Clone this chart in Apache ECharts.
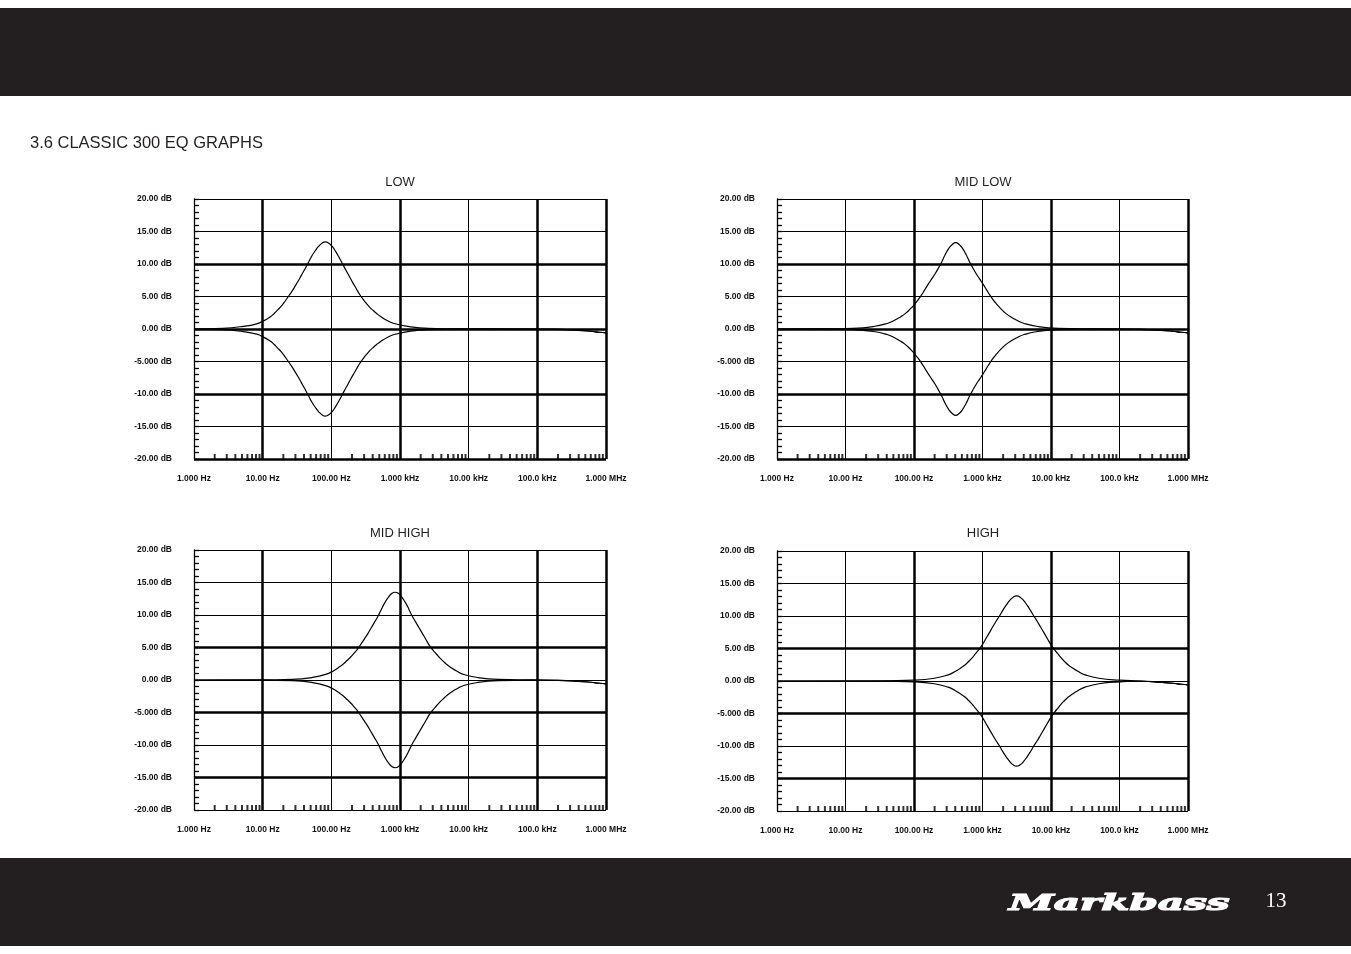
<!DOCTYPE html>
<html><head><meta charset="utf-8">
<script src="https://cdn.jsdelivr.net/npm/echarts@6/dist/echarts.min.js"></script>
<style>html,body{margin:0;padding:0;background:#fff}#c{width:1351px;height:954px}</style>
</head><body><div id="c"></div>
<script>
// ---------- text ----------
const PAGE_TITLE = '3.6 CLASSIC 300 EQ GRAPHS';
const CHART_TITLES = ['LOW', 'MID LOW', 'MID HIGH', 'HIGH'];
const X_TICK_LABELS = ['1.000 Hz', '10.00 Hz', '100.00 Hz', '1.000 kHz', '10.00 kHz', '100.0 kHz', '1.000 MHz'];
const Y_TICK_VALUES = [-20, -15, -10, -5, 0, 5, 10, 15, 20];
const Y_TICK_LABELS = ['-20.00 dB', '-15.00 dB', '-10.00 dB', '-5.000 dB', '0.00 dB', '5.00 dB', '10.00 dB', '15.00 dB', '20.00 dB'];
const MINOR_MULTIPLIERS = [2, 3, 4, 5, 6, 7, 8, 9];
const DECADES = [1, 10, 100, 1000, 10000, 100000];
const PAGE_NUMBER = '13';
const BRAND = 'Markbass';

// ---------- data (Hz, dB) ----------
const lowFreq  = [1, 2.6, 5.2, 8.2, 10.3, 13, 14.6, 16.4, 18.4, 20.6, 23.1, 25.9, 29.1, 32.6, 36.6, 41.1, 46.1, 51.7, 58, 65.1, 73.1, 82, 92, 103, 116, 130, 146, 164, 184, 206, 231, 259, 291, 326, 366, 411, 461, 518, 651, 820, 1300, 2590, 8200, 50000, 200000, 400000, 600000, 800000, 1000000];
const lowBoost = [0.02, 0.11, 0.4, 0.8, 1.25, 1.9, 2.35, 2.9, 3.45, 4.1, 4.85, 5.6, 6.45, 7.3, 8.25, 9.2, 10.2, 11.2, 12.0, 12.7, 13.2, 13.4, 13.2, 12.7, 11.9, 11.0, 10.0, 9.0, 8.05, 7.1, 6.2, 5.3, 4.55, 3.9, 3.3, 2.8, 2.35, 1.95, 1.3, 0.85, 0.4, 0.1, 0.01, 0, -0.05, -0.2, -0.35, -0.5, -0.6];
const lowCut   = [-0.02, -0.11, -0.4, -0.8, -1.25, -1.9, -2.35, -2.9, -3.45, -4.1, -4.85, -5.6, -6.45, -7.3, -8.25, -9.2, -10.2, -11.2, -12.0, -12.7, -13.2, -13.4, -13.2, -12.7, -11.9, -11.0, -10.0, -9.0, -8.05, -7.1, -6.2, -5.3, -4.55, -3.9, -3.3, -2.8, -2.35, -1.95, -1.3, -0.85, -0.4, -0.1, -0.01, 0, -0.05, -0.2, -0.35, -0.5, -0.6];

const midLowFreq  = [1, 4.06, 12.8, 25.6, 40.6, 51.1, 64.1, 72, 80.8, 90.6, 101.7, 114, 128, 144, 161.6, 181.3, 203.5, 228, 256, 287, 322, 362, 406, 456, 511, 573, 643, 722, 810, 908, 1020, 1143, 1284, 1441, 1617, 1814, 2035, 2283, 2562, 3225, 4060, 6435, 12840, 40600, 200000, 400000, 600000, 800000, 1000000];
const midLowBoost = [0, 0.01, 0.1, 0.38, 0.85, 1.3, 1.9, 2.25, 2.7, 3.2, 3.8, 4.45, 5.2, 6.05, 6.9, 7.7, 8.5, 9.4, 10.4, 11.5, 12.4, 13.0, 13.3, 13.0, 12.4, 11.5, 10.4, 9.4, 8.5, 7.7, 6.9, 6.05, 5.2, 4.45, 3.8, 3.2, 2.7, 2.25, 1.9, 1.3, 0.85, 0.38, 0.1, 0.01, -0.05, -0.2, -0.35, -0.5, -0.6];
const midLowCut   = [0, -0.01, -0.1, -0.38, -0.85, -1.3, -1.9, -2.25, -2.7, -3.2, -3.8, -4.45, -5.2, -6.05, -6.9, -7.7, -8.5, -9.4, -10.4, -11.5, -12.4, -13.0, -13.3, -13.0, -12.4, -11.5, -10.4, -9.4, -8.5, -7.7, -6.9, -6.05, -5.2, -4.45, -3.8, -3.2, -2.7, -2.25, -1.9, -1.3, -0.85, -0.38, -0.1, -0.01, -0.05, -0.2, -0.35, -0.5, -0.6];

const midHighFreq  = [1, 8.5, 26.9, 53.6, 85, 107, 134.7, 151, 169.6, 190, 213.5, 240.6, 268.8, 302, 338.4, 380, 426, 478, 536, 602, 675, 758, 850, 954, 1070, 1201, 1347, 1512, 1696, 1903, 2135, 2396, 2688, 3016, 3384, 3797, 4260, 4780, 5363, 6750, 8500, 13470, 26880, 85000, 200000, 400000, 600000, 800000, 1000000];
const midHighBoost = [0, 0.01, 0.1, 0.4, 0.9, 1.4, 2.1, 2.5, 3.0, 3.5, 4.1, 4.75, 5.5, 6.3, 7.1, 8.0, 8.9, 9.8, 10.9, 11.9, 12.7, 13.3, 13.5, 13.3, 12.7, 11.9, 10.9, 9.8, 8.9, 8.0, 7.1, 6.2, 5.3, 4.6, 4.0, 3.4, 2.9, 2.4, 2.0, 1.35, 0.85, 0.38, 0.1, 0.01, -0.05, -0.2, -0.35, -0.5, -0.6];
const midHighCut   = [0, -0.01, -0.1, -0.4, -0.9, -1.4, -2.1, -2.5, -3.0, -3.5, -4.1, -4.75, -5.5, -6.3, -7.1, -8.0, -8.9, -9.8, -10.9, -11.9, -12.7, -13.3, -13.5, -13.3, -12.7, -11.9, -10.9, -9.8, -8.9, -8.0, -7.1, -6.2, -5.3, -4.6, -4.0, -3.4, -2.9, -2.4, -2.0, -1.35, -0.85, -0.38, -0.1, -0.01, -0.05, -0.2, -0.35, -0.5, -0.6];

const highFreq  = [1, 31.5, 99.6, 198.7, 315, 397, 497, 560, 627, 705, 791, 889, 996, 1117, 1254, 1405, 1579, 1771, 1988, 2230, 2502, 2807, 3150, 3534, 3966, 4450, 4993, 5602, 6285, 7050, 7913, 8875, 9962, 11180, 12540, 14070, 15790, 17720, 19880, 25020, 31500, 49930, 99610, 200000, 400000, 600000, 800000, 1000000];
const highBoost = [0, 0.01, 0.12, 0.42, 0.95, 1.45, 2.1, 2.5, 3.0, 3.55, 4.2, 4.85, 5.6, 6.5, 7.4, 8.3, 9.2, 10.0, 10.9, 11.7, 12.4, 12.9, 13.1, 12.9, 12.4, 11.7, 10.9, 10.0, 9.2, 8.3, 7.4, 6.5, 5.6, 4.85, 4.2, 3.55, 3.0, 2.5, 2.1, 1.45, 0.95, 0.42, 0.12, 0, -0.2, -0.35, -0.5, -0.6];
const highCut   = [0, -0.01, -0.12, -0.42, -0.95, -1.45, -2.1, -2.5, -3.0, -3.55, -4.2, -4.85, -5.6, -6.5, -7.4, -8.3, -9.2, -10.0, -10.9, -11.7, -12.4, -12.9, -13.1, -12.9, -12.4, -11.7, -10.9, -10.0, -9.2, -8.3, -7.4, -6.5, -5.6, -4.85, -4.2, -3.55, -3.0, -2.5, -2.1, -1.45, -0.95, -0.42, -0.12, 0, -0.2, -0.35, -0.5, -0.6];

const CHART_DATA = [
  [lowFreq, lowBoost, lowCut],
  [midLowFreq, midLowBoost, midLowCut],
  [midHighFreq, midHighBoost, midHighCut],
  [highFreq, highBoost, highCut]
];

// ---------- layout / style ----------
const GRIDS = [
  {left: 194, top: 199, width: 412, height: 260},
  {left: 777, top: 199, width: 411, height: 260},
  {left: 194, top: 550, width: 412, height: 260},
  {left: 777, top: 551, width: 411, height: 260}
];
const TITLE_POS = [[400, 182], [983, 182], [400, 533], [983, 533]];
const THICK = [
  {x: [10, 1000, 100000, 1000000], y: [10, 0, -10, -20]},
  {x: [100, 10000, 1000000], y: [10, 0, -10, -20]},
  {x: [10, 1000, 100000, 1000000], y: [5, -5, -15]},
  {x: [100, 10000, 1000000], y: [5, -5, -15]}
];
const INK = '#000';
const LABEL_FONT = {fontSize: 8.5, fontWeight: 'bold', fontFamily: 'Liberation Sans, Arial, sans-serif', color: '#111'};

const minorTickPoints = [];
DECADES.forEach(d => MINOR_MULTIPLIERS.forEach(m => minorTickPoints.push([d * m, -20])));

const xAxes = [], yAxes = [], series = [], graphics = [];

GRIDS.forEach((g, i) => {
  xAxes.push({
    type: 'log', logBase: 10, gridIndex: i, min: 1, max: 1000000, interval: 1, splitNumber: 6,
    axisLine: {show: false},
    axisTick: {show: false},
    minorTick: {show: false},
    splitLine: {show: true, lineStyle: {color: INK, width: 1}},
    axisLabel: Object.assign({
      margin: 15, showMinLabel: true, showMaxLabel: true, hideOverlap: false,
      formatter: v => X_TICK_LABELS[Math.round(Math.log10(v))]
    }, LABEL_FONT)
  });
  yAxes.push({
    type: 'value', gridIndex: i, min: -20, max: 20, interval: 5,
    axisLine: {show: true, lineStyle: {color: INK, width: 1.3}},
    axisTick: {show: true, inside: true, length: 5, lineStyle: {color: INK, width: 1.3}},
    minorTick: {show: true, splitNumber: 5, length: 5, lineStyle: {color: INK, width: 1.3}},
    splitLine: {show: true, lineStyle: {color: INK, width: 1}},
    axisLabel: Object.assign({
      margin: 22,
      formatter: v => Y_TICK_LABELS[Y_TICK_VALUES.indexOf(v)]
    }, LABEL_FONT)
  });
  const [fr, boost, cut] = CHART_DATA[i];
  const thickLines = THICK[i].x.map(v => ({xAxis: v})).concat(THICK[i].y.map(v => ({yAxis: v})));
  series.push({
    type: 'line', xAxisIndex: i, yAxisIndex: i, name: CHART_TITLES[i] + ' boost',
    data: fr.map((f, k) => [f, boost[k]]), smooth: 0.5, showSymbol: false, clip: false,
    lineStyle: {color: INK, width: 1.2}, silent: true, z: 3,
    markLine: {
      silent: true, symbol: 'none', label: {show: false},
      lineStyle: {color: INK, width: 2.5, type: 'solid'},
      emphasis: {disabled: true},
      data: thickLines
    }
  });
  series.push({
    type: 'line', xAxisIndex: i, yAxisIndex: i, name: CHART_TITLES[i] + ' cut',
    data: fr.map((f, k) => [f, cut[k]]), smooth: 0.5, showSymbol: false, clip: false,
    lineStyle: {color: INK, width: 1.2}, silent: true, z: 3
  });
  series.push({
    type: 'scatter', xAxisIndex: i, yAxisIndex: i, silent: true, clip: false,
    data: minorTickPoints, symbol: 'rect', symbolSize: [2, 5], symbolOffset: [0, -2.5],
    itemStyle: {color: INK}, z: 4
  });
  graphics.push({
    type: 'text', x: TITLE_POS[i][0], y: TITLE_POS[i][1], silent: true,
    style: {text: CHART_TITLES[i], fill: '#231f20', font: '13px "Liberation Sans", Arial, sans-serif', align: 'center', verticalAlign: 'middle'}
  });
});

graphics.unshift(
  {type: 'rect', shape: {x: 0, y: 8, width: 1351, height: 88}, style: {fill: '#231f20'}, silent: true},
  {type: 'rect', shape: {x: 0, y: 858, width: 1351, height: 88}, style: {fill: '#231f20'}, silent: true},
  {type: 'text', x: 30, y: 143, silent: true,
   style: {text: PAGE_TITLE, fill: '#231f20', font: '16.5px "Liberation Sans", Arial, sans-serif', align: 'left', verticalAlign: 'middle'}},
  {type: 'text', x: 1009, y: 904, scaleX: 1.76, silent: true,
   style: {text: BRAND, fill: '#fff', stroke: '#fff', lineWidth: 1.2, font: 'italic bold 23px "DejaVu Serif", serif', align: 'left', verticalAlign: 'middle'}},
  {type: 'text', x: 1276, y: 901, silent: true,
   style: {text: PAGE_NUMBER, fill: '#fff', font: '21px "Liberation Serif", "Times New Roman", serif', align: 'center', verticalAlign: 'middle'}}
);

const chart = echarts.init(document.getElementById('c'), null, {renderer: 'canvas'});
chart.setOption({
  backgroundColor: '#fff',
  animation: false,
  grid: GRIDS,
  xAxis: xAxes,
  yAxis: yAxes,
  series: series,
  graphic: graphics
});
</script>
</body></html>
